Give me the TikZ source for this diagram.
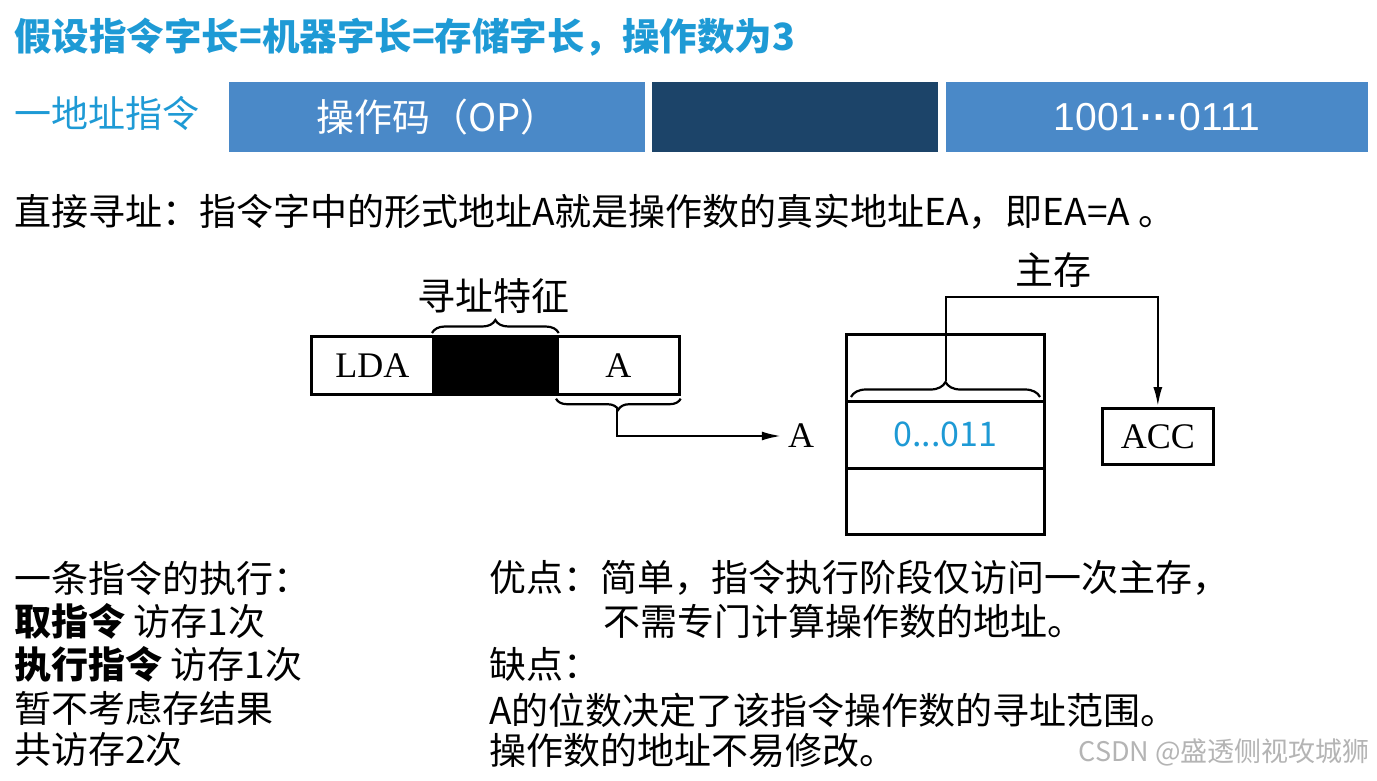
\documentclass[tikz,border=0pt]{standalone}
\usepackage{fontspec}
\setmainfont{Noto Sans CJK SC}
\newfontfamily\cjk{Noto Sans CJK SC}
\newfontfamily\tms{Liberation Serif}
\newfontfamily\arl{Liberation Sans}
\usetikzlibrary{decorations.pathreplacing,arrows.meta,calc}
\definecolor{ttl}{HTML}{1E9AD5}
\definecolor{barblue}{HTML}{4A89C8}
\definecolor{bardark}{HTML}{1C4469}
\definecolor{wm}{HTML}{B4B4B4}
\tikzset{
  txt/.style={anchor=west,inner sep=0pt,font=\fontsize{37}{40}\selectfont},
  bar/.style={anchor=north west,inner sep=0pt,minimum height=70pt,text=white},
  cell/.style={draw=black,line width=2.7pt,anchor=north west,inner sep=0pt},
  brc/.style={decorate,decoration={brace,amplitude=#1},line width=2.2pt},
  conn/.style={line width=2.7pt},
  serif/.style={font=\tms\fontsize{36}{38}\selectfont},
}
\begin{document}
\begin{tikzpicture}[x=1pt,y=-1pt]
\useasboundingbox (0,0) rectangle (1377,781);
% title
\node[txt,text=ttl,font=\fontsize{37.5}{40}\selectfont\bfseries] (title) at (14,37) {假设指令字长=机器字长=存储字长，操作数为3};
\node[txt,text=ttl,font=\fontsize{37}{40}\selectfont] (onead) at (14,113) {一地址指令};
% bars
\node[bar,fill=barblue,minimum width=416pt,font=\fontsize{38}{40}\selectfont] (op) at (229,82) {操作码（OP）};
\node[bar,fill=bardark,minimum width=286pt] (mode) at (652,82) {};
\node[bar,fill=barblue,minimum width=422pt,font=\arl\fontsize{39}{40}\selectfont] (addr) at (946,82) {1001\textbf{···}0111};
% direct addressing line
\node[txt] (direct) at (14,212) {直接寻址：指令字中的形式地址A就是操作数的真实地址EA，即EA=A 。};
% instruction format
\node[cell,serif,minimum width=122pt,minimum height=58pt] (lda) at (310,335) {LDA};
\node[cell,fill=black,minimum width=124pt,minimum height=58pt] (feat) at (432,335) {};
\node[cell,serif,minimum width=122pt,minimum height=58pt] (afield) at (556,335) {A};
\draw[brc=13pt] ($(feat.north west)+(0,-2)$) -- ($(feat.north east)+(0,-2)$);
\node[inner sep=0pt,font=\fontsize{38}{40}\selectfont] (featlab) at (493,296) {寻址特征};
\draw[brc=11pt] ($(afield.south east)+(0,3)$) -- ($(afield.south west)+(0,3)$);
\coordinate (btip) at (617,408);
\node[inner sep=0pt,serif] (alab) at (801,436) {A};
\draw[conn,-{Latex[length=20pt,width=9pt]}] (btip) |- ($(alab.west)+(-6,0)$);
% memory
\node[cell,minimum width=198pt,minimum height=67pt] (m1) at (845,333) {};
\node[cell,minimum width=198pt,minimum height=67pt,text=ttl,font=\fontsize{34}{36}\selectfont] (m2) at (845,400) {0...011};
\node[cell,minimum width=198pt,minimum height=66pt] (m3) at (845,467) {};
\draw[brc=15pt] (851,397) -- (1040,397);
\coordinate (mtip) at (946,381);
\coordinate (mtop) at (946,297);
\node[inner sep=0pt,font=\fontsize{38}{40}\selectfont] (mainlab) at (1053,270) {主存};
\node[cell,serif,minimum width=111pt,minimum height=56pt] (acc) at (1101,407) {ACC};
\draw[conn,-{Latex[length=20pt,width=9pt]}] (mtip) -- (mtop) -| (acc.north);
% bottom left
\node[txt] (l1) at (14,578) {一条指令的执行：};
\node[txt] (l2) at (14,621) {\textbf{取指令} 访存1次};
\node[txt] (l3) at (14,664) {\textbf{执行指令} 访存1次};
\node[txt] (l4) at (14,708) {暂不考虑存结果};
\node[txt] (l5) at (14,750) {共访存2次};
% bottom right
\node[txt] (r1) at (489,578) {优点：简单，指令执行阶段仅访问一次主存，};
\node[txt] (r2) at (603,621) {不需专门计算操作数的地址。};
\node[txt] (r3) at (489,664) {缺点：};
\node[txt] (r4) at (489,710) {A的位数决定了该指令操作数的寻址范围。};
\node[txt] (r5) at (489,750) {操作数的地址不易修改。};
% watermark
\node[anchor=east,inner sep=0pt,text=wm,font=\fontsize{27}{30}\selectfont] (wmk) at (1370,752) {CSDN @盛透侧视攻城狮};
\end{tikzpicture}
\end{document}
